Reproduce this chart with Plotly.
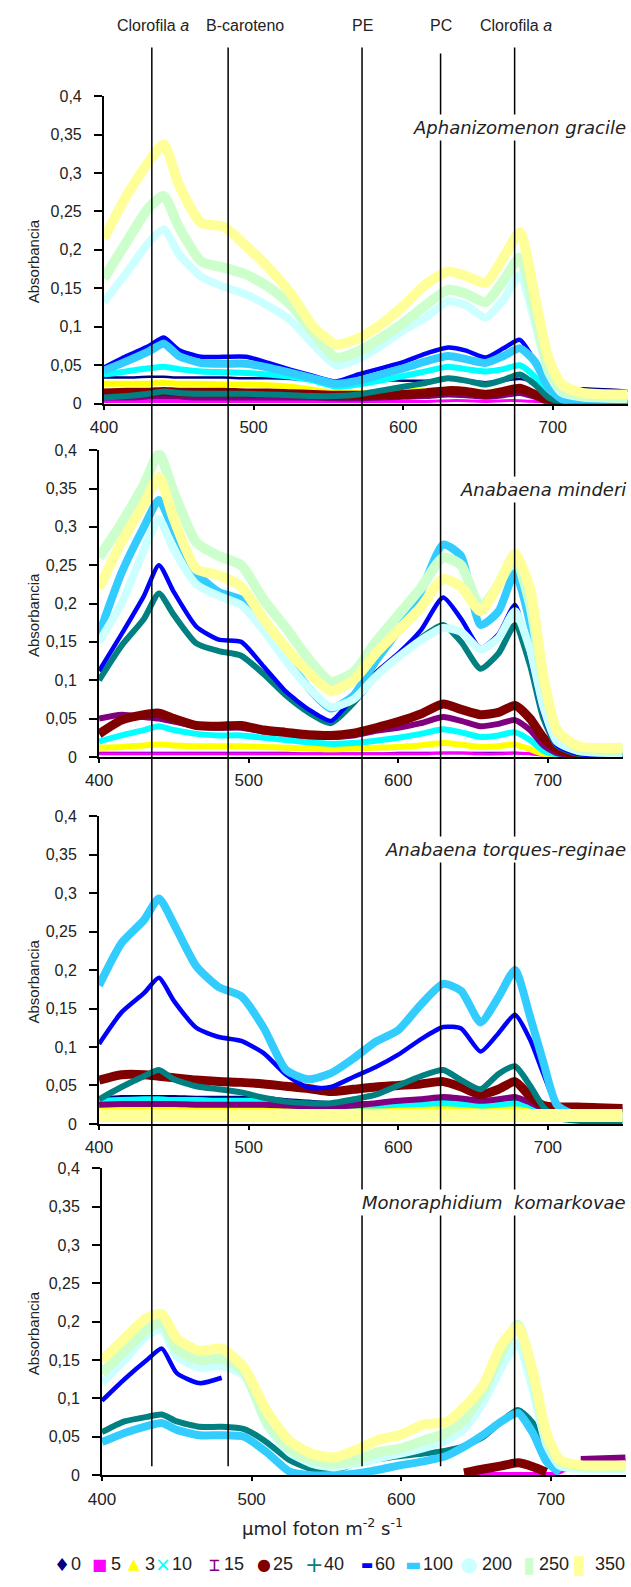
import plotly.graph_objects as go

# Wavelength grid (nm) shared by every spectrum
wavelength = [400, 415, 430, 440, 450, 465, 480, 495, 510, 525, 540, 555, 570,
              585, 600, 615, 630, 642, 655, 667, 678, 688, 697, 706, 720, 750]

# Light treatments (µmol foton m-2 s-1), in plotting order
series_names = ["0", "5", "3", "10", "15", "25", "40", "60", "100", "200", "250", "350"]
series_colors = ["#000080", "#FF00FF", "#FFFF00", "#00FFFF", "#800080", "#800000",
                 "#008080", "#0000FF", "#33CCFF", "#CCFFFF", "#CCFFCC", "#FFFF99"]
series_widths = [2.5, 3, 6, 6, 6, 9, 6, 4.5, 8, 8, 10, 10]

species = ["Aphanizomenon gracile", "Anabaena minderi",
           "Anabaena torques-reginae", "Monoraphidium  komarkovae"]

# Pigment reference wavelengths (nm)
pigment_names = ["Clorofila <i>a</i>", "B-caroteno", "PE", "PC", "Clorofila <i>a</i>"]
pigment_nm = [432, 483, 572.5, 625, 674.5]

# --- Aphanizomenon gracile ---
aph_0 = [.034, .034, .035, .035, .034, .034, .034, .033, .033, .032, .030, .025, .027,
         .030, .030, .030, .032, .030, .028, .030, .032, .028, .022, .020, .020, .017]
aph_5 = [.003, .003, .003, .003, .003, .003, .003, .003, .003, .003, .003, .003, .003,
         .003, .003, .003, .004, .004, .003, .004, .004, .003, .002, .001, .001, .001]
aph_3 = [.026, .026, .026, .027, .026, .026, .025, .025, .024, .022, .018, .014, .014,
         .015, .016, .017, .018, .017, .015, .017, .018, .012, .005, .002, .001, .001]
aph_10 = [.038, .042, .046, .048, .045, .042, .041, .040, .038, .035, .030, .022, .025,
          .030, .036, .042, .048, .045, .042, .045, .050, .035, .012, .003, .001, .001]
aph_15 = [.008, .008, .009, .009, .009, .008, .008, .008, .008, .008, .008, .007, .007,
          .008, .009, .010, .012, .011, .009, .011, .014, .009, .004, .001, .001, .001]
aph_25 = [.014, .015, .015, .016, .015, .015, .015, .014, .014, .013, .012, .011, .011,
          .011, .012, .014, .017, .016, .012, .016, .020, .012, .004, .001, 0, 0]
aph_40 = [.008, .010, .013, .016, .014, .013, .013, .013, .012, .011, .010, .010, .012,
          .017, .022, .027, .033, .030, .025, .031, .038, .025, .008, .002, 0, 0]
aph_60 = [.047, .062, .075, .086, .070, .061, .061, .061, .053, .044, .036, .029, .038,
          .046, .054, .065, .073, .069, .060, .072, .083, .055, .020, .005, .002, .001]
aph_100 = [.043, .055, .068, .078, .062, .053, .052, .052, .047, .040, .033, .026, .030,
           .038, .046, .055, .062, .058, .053, .062, .072, .055, .022, .006, .002, .001]
aph_200 = [.132, .170, .210, .227, .195, .165, .152, .142, .127, .108, .077, .050, .058,
           .075, .095, .112, .133, .128, .112, .135, .168, .105, .040, .014, .008, .006]
aph_250 = [.163, .210, .255, .270, .230, .185, .177, .168, .152, .128, .092, .060, .068,
           .085, .105, .128, .148, .143, .132, .160, .190, .120, .045, .018, .010, .008]
aph_350 = [.215, .270, .315, .337, .285, .235, .230, .205, .177, .143, .100, .077, .085,
           .103, .127, .155, .172, .166, .157, .190, .223, .140, .060, .025, .014, .012]

# --- Anabaena minderi ---
min_0 = [.005, .005, .005, .005, .005, .005, .005, .005, .005, .005, .004, .004, .004,
         .004, .005, .005, .005, .005, .005, .005, .005, .004, .003, .002, .001, .001]
min_5 = [.004, .004, .004, .004, .004, .004, .004, .004, .004, .004, .004, .004, .004,
         .004, .004, .004, .005, .005, .004, .004, .005, .004, .002, .001, .001, .001]
min_3 = [.012, .013, .015, .016, .015, .014, .014, .014, .013, .012, .011, .010, .011,
         .012, .013, .015, .018, .016, .013, .014, .016, .010, .004, .001, 0, 0]
min_10 = [.020, .028, .035, .040, .035, .030, .028, .028, .025, .022, .019, .017, .018,
          .021, .025, .030, .036, .032, .026, .028, .032, .022, .008, .003, .001, .001]
min_15 = [.050, .055, .052, .050, .046, .040, .038, .038, .033, .030, .027, .026, .028,
          .034, .038, .044, .052, .047, .040, .043, .048, .035, .015, .005, .002, .001]
min_25 = [.030, .048, .055, .057, .050, .041, .040, .041, .035, .032, .029, .028, .031,
          .038, .046, .056, .069, .062, .055, .058, .067, .050, .025, .010, .003, .001]
min_40 = [.100, .145, .180, .213, .185, .148, .138, .132, .108, .080, .058, .044, .070,
          .105, .130, .155, .172, .150, .115, .135, .172, .120, .050, .015, .004, .002]
min_60 = [.112, .160, .210, .250, .215, .170, .153, .150, .118, .085, .062, .047, .078,
          .110, .135, .165, .208, .180, .142, .160, .198, .130, .055, .015, .004, .002]
min_100 = [.160, .240, .300, .335, .295, .240, .215, .205, .170, .130, .090, .063, .080,
           .125, .165, .215, .277, .262, .172, .190, .240, .175, .080, .025, .008, .005]
min_200 = [.150, .200, .270, .310, .270, .225, .210, .198, .165, .125, .090, .065, .075,
           .105, .130, .152, .168, .163, .140, .155, .190, .140, .065, .020, .008, .005]
min_250 = [.260, .305, .355, .395, .345, .280, .262, .250, .205, .168, .128, .098, .110,
           .150, .185, .220, .260, .250, .195, .225, .260, .200, .100, .035, .012, .008]
min_350 = [.220, .280, .330, .365, .310, .245, .237, .222, .180, .142, .110, .086, .100,
           .135, .165, .195, .232, .222, .190, .225, .265, .220, .105, .035, .014, .012]

# --- Anabaena torques-reginae ---
tor_0 = [.034, .036, .036, .036, .036, .035, .035, .035, .035, .032, .030, .028, .028,
         .028, .028, .028, .030, .028, .026, .028, .030, .026, .022, .020, .020, .020]
tor_5 = [.022, .022, .022, .022, .022, .022, .022, .022, .022, .022, .022, .022, .022,
         .022, .022, .022, .022, .022, .022, .022, .022, .022, .020, .020, .019, .019]
tor_3 = [.020, .020, .020, .020, .020, .020, .020, .020, .020, .020, .020, .020, .020,
         .020, .020, .020, .020, .020, .020, .020, .020, .020, .018, .018, .018, .018]
tor_10 = [.030, .031, .032, .032, .031, .031, .030, .030, .030, .027, .025, .024, .024,
          .024, .025, .026, .027, .026, .024, .025, .027, .024, .020, .018, .018, .018]
tor_15 = [.025, .026, .026, .026, .026, .025, .025, .025, .025, .024, .023, .023, .024,
          .027, .030, .032, .035, .033, .030, .032, .035, .028, .020, .018, .017, .016]
tor_25 = [.057, .064, .064, .062, .060, .057, .055, .054, .052, .049, .046, .042, .045,
          .048, .050, .052, .055, .048, .038, .045, .055, .036, .024, .022, .022, .020]
tor_40 = [.032, .048, .062, .070, .058, .049, .045, .041, .034, .029, .027, .027, .032,
          .038, .050, .062, .070, .057, .045, .065, .075, .050, .022, .008, .004, .003]
tor_60 = [.104, .145, .170, .190, .160, .125, .113, .108, .092, .064, .047, .048, .061,
          .074, .090, .110, .126, .124, .094, .118, .142, .110, .065, .025, .010, .008]
tor_100 = [.180, .235, .265, .293, .260, .205, .178, .166, .125, .070, .058, .066, .085,
           .107, .122, .155, .182, .173, .132, .165, .200, .140, .080, .025, .010, .008]
tor_200 = [.010, .010, .010, .010, .010, .010, .010, .010, .010, .010, .010, .010, .010,
           .010, .010, .010, .010, .010, .010, .010, .010, .010, .010, .010, .010, .010]
tor_250 = [.010, .010, .010, .010, .010, .010, .010, .010, .010, .010, .010, .010, .010,
           .010, .010, .010, .010, .010, .010, .010, .010, .010, .010, .010, .010, .010]
tor_350 = [.011, .011, .011, .011, .011, .011, .011, .011, .011, .011, .011, .011, .011,
           .011, .011, .011, .011, .011, .011, .011, .011, .011, .011, .011, .011, .011]

# --- Monoraphidium komarkovae ---
N = None
mon_0 = [N, N, N, N, N, N, N, N, N, N, N, N, N, N, N, N, N, N, N, N, N, N, N, N, N, N]
mon_5 = [N, N, N, N, N, N, N, N, N, N, N, N, N, N, N, N, N, .003, .002, .002, .002,
         .002, .002, .003, .017, .019]
mon_3 = [N, N, N, N, N, N, N, N, N, N, N, N, N, N, N, N, N, N, N, N, N, N, N, N, N, N]
mon_10 = [N, N, N, N, N, N, N, N, N, N, N, N, N, N, N, N, N, N, N, N, N, N, N, N, N, N]
mon_15 = [N, N, N, N, N, N, N, N, N, N, N, N, N, N, N, N, N, N, N, N, N, N, N, N,
          .021, .023]
mon_25 = [N, N, N, N, N, N, N, N, N, N, N, N, N, N, N, N, N, .003, .008, .012, .016,
          .011, .004, N, N, N]
mon_40 = [.056, .070, .076, .079, .070, .063, .063, .060, .043, .020, .008, .006, .015,
          .021, .025, .028, .032, .038, .050, .070, .085, .068, .025, .005, N, N]
mon_60 = [.097, .125, .150, .165, .133, .120, .127, N, N, N, N, N, N,
          N, N, N, N, N, N, N, N, N, N, N, N, N]
mon_100 = [.043, .055, .064, .068, .059, .052, .052, .050, .030, .005, 0, 0, .002,
           .007, .013, .018, .025, .037, .053, .070, .081, .055, .018, .003, N, N]
mon_200 = [.120, .150, .182, .190, .155, .140, .142, .130, .065, .030, .015, .010, .015,
           .022, .028, .035, .045, .060, .095, .140, .172, .110, .040, .012, .008, .008]
mon_250 = [.133, .162, .190, .200, .165, .150, .152, .135, .070, .035, .020, .015, .020,
           .030, .035, .045, .055, .072, .110, .160, .196, .130, .050, .018, .012, .012]
mon_350 = [.150, .178, .205, .210, .178, .162, .165, .140, .084, .045, .028, .023, .033,
           .046, .053, .066, .069, .088, .118, .170, .193, .135, .055, .020, .013, .013]

panel_series = [
    [aph_0, aph_5, aph_3, aph_10, aph_15, aph_25, aph_40, aph_60, aph_100, aph_200, aph_250, aph_350],
    [min_0, min_5, min_3, min_10, min_15, min_25, min_40, min_60, min_100, min_200, min_250, min_350],
    [tor_0, tor_5, tor_3, tor_10, tor_15, tor_25, tor_40, tor_60, tor_100, tor_200, tor_250, tor_350],
    [mon_0, mon_5, mon_3, mon_10, mon_15, mon_25, mon_40, mon_60, mon_100, mon_200, mon_250, mon_350],
]

# ---------------- layout geometry (pixels) ----------------
W, H = 631, 1587
panel_top = [89, 447, 817, 1173]      # pixel row of 0,4
panel_bottom = [400, 757, 1128, 1483]  # pixel row of 0
panel_left = [92, 87, 87, 90]          # pixel column of 400 nm
px_per_nm = 1.53
species_y = [121, 487, 851, 1207]


def px(x):
    return x / W


def py(y):
    return 1 - y / H


TEXT = "#222222"
SANS = "Liberation Sans, Arial, sans-serif"
GOTHIC = "DejaVu Sans, sans-serif"

fig = go.Figure()

for p, series_list in enumerate(panel_series):
    suffix = "" if p == 0 else str(p + 1)
    for name, color, width, values in zip(series_names, series_colors, series_widths, series_list):
        if p == 2 and name == "350":
            width = 13
        fig.add_trace(go.Scatter(
            x=wavelength, y=values, mode="lines", name=name,
            line=dict(color=color, width=width, shape="spline", smoothing=0.6),
            showlegend=False, hoverinfo="skip",
            xaxis="x" + suffix, yaxis="y" + suffix,
        ))

layout = dict(
    width=W, height=H,
    margin=dict(l=0, r=0, t=0, b=0),
    paper_bgcolor="white", plot_bgcolor="rgba(0,0,0,0)",
    separators=", ",
    showlegend=False,
)

for p in range(4):
    suffix = "" if p == 0 else str(p + 1)
    x0 = panel_left[p]
    x1 = x0 + px_per_nm * 350
    layout["xaxis" + suffix] = dict(
        domain=[px(x0), px(x1)], range=[400, 750], anchor="y" + suffix,
        tick0=400, dtick=100, showline=True, linecolor="black", linewidth=2,
        ticks="outside", ticklen=4, tickwidth=2, tickcolor="black",
        showgrid=False, zeroline=False, ticklabelstandoff=3,
        tickfont=dict(family=SANS, size=17, color=TEXT),
    )
    layout["yaxis" + suffix] = dict(
        domain=[py(panel_bottom[p]), py(panel_top[p])], range=[0, 0.4],
        anchor="x" + suffix, tick0=0, dtick=0.05,
        showline=True, linecolor="black", linewidth=2,
        ticks="outside", ticklen=8, tickwidth=2, tickcolor="black",
        showgrid=False, zeroline=False, ticklabelstandoff=9,
        tickfont=dict(family=SANS, size=16, color=TEXT),
    )

fig.update_layout(**layout)

# Pigment reference lines running through all four panels
shapes = []
for nm, name in zip(pigment_nm, pigment_names):
    top = 46 if name == "PC" else 40
    shapes.append(dict(type="line", xref="x", yref="paper", x0=nm, x1=nm,
                       y0=py(1474), y1=py(top), line=dict(color="black", width=1.5)))
fig.update_layout(shapes=shapes)

annotations = []
label_x = [142, 236, 356, 437, 513]
for name, lx in zip(pigment_names, label_x):
    annotations.append(dict(text=name, x=px(lx), y=py(18), xref="paper", yref="paper",
                            showarrow=False, xanchor="center", yanchor="middle",
                            font=dict(family=SANS, size=16, color=TEXT)))

for p, sp in enumerate(species):
    annotations.append(dict(text="<i>" + sp + "</i>", x=px(629), y=py(species_y[p]),
                            xref="paper", yref="paper", showarrow=False,
                            xanchor="right", yanchor="middle", bgcolor="white",
                            borderpad=2,
                            font=dict(family=GOTHIC, size=18, color=TEXT)))
    mid = (panel_top[p] + panel_bottom[p]) / 2 + 12
    annotations.append(dict(text="Absorbancia", x=px(20), y=py(mid), xref="paper",
                            yref="paper", showarrow=False, textangle=-90,
                            xanchor="center", yanchor="middle",
                            font=dict(family=SANS, size=15, color=TEXT)))

annotations.append(dict(text="µmol foton m<sup>-2</sup> s<sup>-1</sup>", x=px(315), y=py(1535),
                        xref="paper", yref="paper", showarrow=False,
                        xanchor="center", yanchor="middle",
                        font=dict(family=GOTHIC, size=18, color=TEXT)))

# Legend: coloured marker glyph followed by the treatment label
legend_glyphs = ["♦", "■", "▲", "×", "⌶", "●", "+", "▬", "▬", "●", "▮", "▮"]
legend_glyph_size = [18, 16, 15, 19, 18, 16, 22, 13, 17, 20, 22, 26]
legend_symbol_x = [49, 87, 123, 152, 205, 256, 307, 361, 408, 465, 527, 578]
legend_text_x = [56, 97, 132, 160, 213, 263, 315, 367, 416, 477, 535, 592]
legend_y = 1573
for name, color, glyph, gsize, sx, tx in zip(series_names, series_colors, legend_glyphs,
                                             legend_glyph_size, legend_symbol_x, legend_text_x):
    annotations.append(dict(text=glyph, x=px(sx), y=py(legend_y), xref="paper", yref="paper",
                            showarrow=False, xanchor="center", yanchor="middle",
                            font=dict(family="DejaVu Sans, DejaVu Sans Mono", size=gsize,
                                      color=color)))
    annotations.append(dict(text=name, x=px(tx), y=py(legend_y), xref="paper", yref="paper",
                            showarrow=False, xanchor="left", yanchor="middle",
                            font=dict(family=SANS, size=18, color=TEXT)))

fig.update_layout(annotations=annotations)

fig.write_html("out.html")
